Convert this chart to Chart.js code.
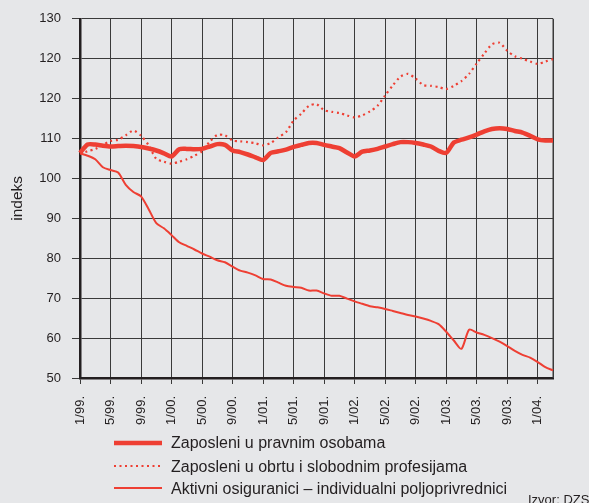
<!DOCTYPE html>
<html><head><meta charset="utf-8">
<script src="https://cdn.jsdelivr.net/npm/chart.js@4.4.1/dist/chart.umd.min.js"></script>
<style>
html,body{margin:0;padding:0;background:#e6e7e9;}
#wrap{position:relative;width:589px;height:503px;overflow:hidden;background:#e6e7e9;font-family:"Liberation Sans",Arial,sans-serif;color:#231f20;}
#c{position:absolute;left:0;top:0;}
.lt{position:absolute;left:171px;font-size:16px;line-height:20px;white-space:nowrap;}
.ls{position:absolute;left:114px;}
#src{position:absolute;left:528px;top:492px;font-size:13px;line-height:16px;white-space:nowrap;}
</style></head>
<body>
<div id="wrap">
<canvas id="c" width="589" height="503"></canvas>
<div id="legend"></div>
<div id="src">Izvor: DZS</div>
</div>
<script>
const months = ['1/99.','2/99.','3/99.','4/99.','5/99.','6/99.','7/99.','8/99.','9/99.','10/99.','11/99.','12/99.',
'1/00.','2/00.','3/00.','4/00.','5/00.','6/00.','7/00.','8/00.','9/00.','10/00.','11/00.','12/00.',
'1/01.','2/01.','3/01.','4/01.','5/01.','6/01.','7/01.','8/01.','9/01.','10/01.','11/01.','12/01.',
'1/02.','2/02.','3/02.','4/02.','5/02.','6/02.','7/02.','8/02.','9/02.','10/02.','11/02.','12/02.',
'1/03.','2/03.','3/03.','4/03.','5/03.','6/03.','7/03.','8/03.','9/03.','10/03.','11/03.','12/03.',
'1/04.','2/04.','3/04.'];

const yTickLabels = ['50','60','70','80','90','100','110','120','120','130'];

const seriesNames = ['Zaposleni u pravnim osobama','Zaposleni u obrtu i slobodnim profesijama','Aktivni osiguranici \u2013 individualni poljoprivrednici'];

const pravneOsobe = [106.4,108.5,108.5,108.2,108.0,108.1,108.2,108.1,107.9,107.5,
107.0,106.3,105.5,107.3,107.4,107.3,107.4,108.0,108.6,108.4,
107.0,106.6,106.0,105.3,104.6,106.4,106.8,107.2,107.9,108.4,
108.9,108.9,108.4,108.0,107.6,106.5,105.5,106.7,107.0,107.4,
108.0,108.6,109.1,109.1,108.9,108.5,108.0,106.9,106.4,109.0,
109.7,110.3,111.0,111.8,112.4,112.6,112.4,111.9,111.5,110.7,
109.8,109.5,109.5];

const obrt = [106.2,106.8,107.4,108.4,109.4,109.7,110.8,112.0,110.7,108.3,
104.9,104.2,103.7,104.2,104.8,105.7,106.8,109.2,110.9,110.8,
109.5,109.3,109.1,108.8,108.3,108.9,110.3,111.6,114.5,116.2,
118.2,118.6,117.1,116.7,116.4,115.8,115.3,115.8,116.8,118.2,
120.8,123.3,125.5,126.2,125.0,123.4,123.2,122.9,122.4,123.2,
124.4,126.2,128.8,131.3,133.6,134.0,132.0,130.6,130.0,129.3,
128.7,129.3,129.9];

const poljoprivrednici = [106.3,105.7,104.8,102.8,102.1,101.5,98.4,96.6,95.5,92.3,
88.8,87.5,85.8,84.0,83.1,82.2,81.2,80.4,79.5,79.0,
77.9,76.9,76.4,75.7,74.8,74.7,73.9,73.1,72.8,72.6,
71.9,71.9,71.2,70.6,70.6,69.9,69.2,68.6,68.0,67.7,
67.3,66.8,66.3,65.8,65.4,64.9,64.3,63.5,61.6,59.4,
57.3,62.1,61.4,60.8,60.0,59.1,58.0,56.8,55.8,55.1,
54.0,52.7,51.9];

const RED = '#ee3f33';
const TXT = '#231f20';
const GRID = '#3a3a3a';
const FONT = '"Liberation Sans", Arial, sans-serif';

const styles = [
  {w:4.5, dash:[]},
  {w:2.2, dash:[2,3.5]},
  {w:2, dash:[]}
];
const values = [pravneOsobe, obrt, poljoprivrednici];

const frame = {
  id:'frame',
  beforeDatasetsDraw(chart){
    const a = chart.chartArea, ctx = chart.ctx;
    ctx.save();
    ctx.strokeStyle = GRID; ctx.lineWidth = 1.5;
    ctx.beginPath();
    ctx.moveTo(Math.round(a.right)+0.25, a.top);
    ctx.lineTo(Math.round(a.right)+0.25, a.bottom);
    ctx.stroke();
    ctx.restore();
  }
};

new Chart(document.getElementById('c'), {
  type:'line',
  data:{
    labels: months,
    datasets: values.map((v,i)=>({
      label: seriesNames[i],
      data: v,
      borderColor: RED,
      backgroundColor: RED,
      borderWidth: styles[i].w,
      borderDash: styles[i].dash,
      borderCapStyle: 'butt',
      borderJoinStyle: 'round',
      pointRadius: 0,
      tension: 0.25,
      fill: false
    }))
  },
  options:{
    responsive:false,
    animation:false,
    devicePixelRatio:1,
    layout:{padding:{left:0,right:36,top:17,bottom:0}},
    plugins:{legend:{display:false},tooltip:{enabled:false}},
    scales:{
      x:{
        type:'category',
        offset:false,
        afterFit(s){ s.height = 125; },
        grid:{color:GRID, lineWidth:1, drawTicks:true, tickLength:6, tickColor:GRID},
        border:{display:true, color:TXT, width:2.5},
        ticks:{
          autoSkip:false, minRotation:90, maxRotation:90, padding:12,
          color:TXT, font:{family:FONT, size:13},
          callback(v, i){ return i % 4 === 0 ? months[i] : null; }
        }
      },
      y:{
        min:50, max:140,
        afterFit(s){ s.width = 80; },
        grid:{color:GRID, lineWidth:1, drawTicks:true, tickLength:8, tickColor:GRID},
        border:{display:true, color:TXT, width:2.5},
        title:{display:true, text:'indeks', color:TXT, font:{family:FONT, size:15.5}, padding:{top:8,bottom:0}},
        ticks:{
          stepSize:10, padding:11, color:TXT, font:{family:FONT, size:13},
          callback(v, i){ return yTickLabels[i]; }
        }
      }
    }
  },
  plugins:[frame]
});

// legend (HTML) built from the series names and styles
const legend = document.getElementById('legend');
const rowTop = [432.5, 456.5, 479];
const lineY = [442.7, 465.7, 487.7];
seriesNames.forEach((name,i)=>{
  const t = document.createElement('div');
  t.className = 'lt'; t.style.top = rowTop[i] + 'px'; t.textContent = name;
  legend.appendChild(t);
  const svgNS = 'http://www.w3.org/2000/svg';
  const svg = document.createElementNS(svgNS,'svg');
  svg.setAttribute('class','ls'); svg.setAttribute('width','48'); svg.setAttribute('height','10');
  svg.style.top = (lineY[i]-5) + 'px';
  const ln = document.createElementNS(svgNS,'line');
  ln.setAttribute('x1','0'); ln.setAttribute('x2','48'); ln.setAttribute('y1','5'); ln.setAttribute('y2','5');
  ln.setAttribute('stroke', RED); ln.setAttribute('stroke-width', styles[i].w);
  if (styles[i].dash.length) ln.setAttribute('stroke-dasharray', styles[i].dash.join(' '));
  svg.appendChild(ln);
  legend.appendChild(svg);
});
</script>
</body></html>
